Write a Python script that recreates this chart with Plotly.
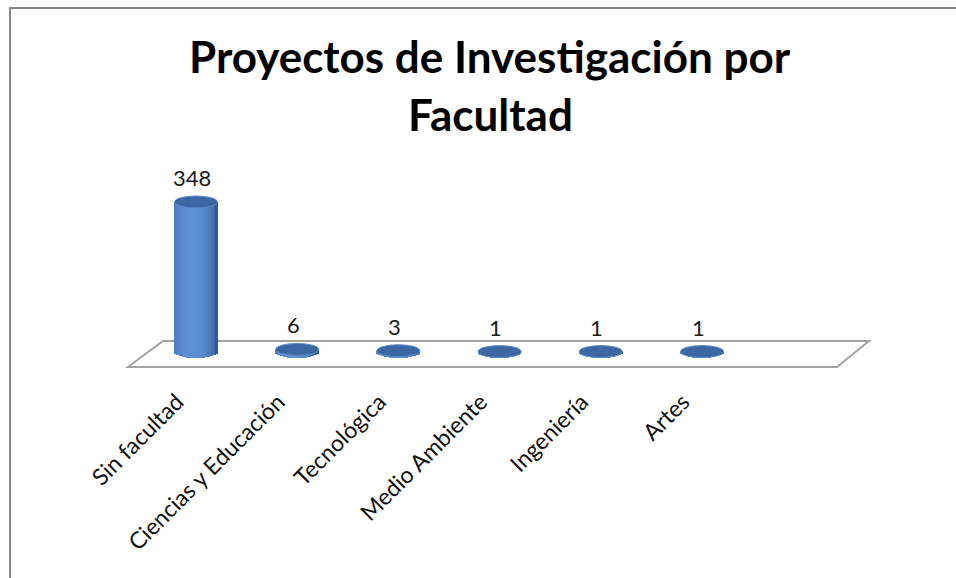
import math
import plotly.graph_objects as go

# ---- data ----
categories = ["Sin facultad", "Ciencias y Educación", "Tecnológica",
              "Medio Ambiente", "Ingeniería", "Artes"]
values = [348, 6, 3, 1, 1, 1]
title_lines = ["Proyectos de Investigación por", "Facultad"]

# ---- geometry / style ----
W, H = 956, 578
M_B = 195                     # bottom margin (room for rotated labels)
PLOT_H = H - M_B
X_PX0, X_STEP = 196.0, 101.2  # pixel of first category, px per category
Y_PX0, Y_SCALE = 352.0, 150.0 / 348.0  # pixel of zero, px per unit

x_lo = -X_PX0 / X_STEP
x_hi = x_lo + W / X_STEP
y_lo = -(PLOT_H - Y_PX0) / Y_SCALE
y_hi = y_lo + PLOT_H / Y_SCALE

CYL_W = 43.0 / X_STEP          # cylinder width (data units)
ELL_H = 12.0 / Y_SCALE         # ellipse height (data units)
N_STRIPS = 28
LABEL_SHIFT = 19.0 / X_STEP    # rotated category labels sit left of the bars

def py_to_paper(py):
    return (PLOT_H - py) / PLOT_H

def shade(u):
    dark = (48, 88, 146)
    light = (96, 145, 214)
    t = max(0.0, 1.0 - ((u + 0.18) / 1.15) ** 2)
    t = t ** 0.7
    c = [int(d + (l - d) * t) for d, l in zip(dark, light)]
    return "rgb(%d,%d,%d)" % tuple(c)

x_pos = list(range(len(categories)))

fig = go.Figure()

# cylinder bodies built from vertical strips (shaded gradient)
for k in range(N_STRIPS):
    u = -1 + (k + 0.5) * 2 / N_STRIPS
    sw = CYL_W / N_STRIPS
    base = -(ELL_H / 2) * math.sqrt(max(0.0, 1 - u * u))
    fig.add_trace(go.Bar(
        x=x_pos, y=[v - base for v in values], base=[base] * len(values),
        width=[sw * 1.15] * len(values),
        offset=[-CYL_W / 2 + k * sw] * len(values),
        marker=dict(color=shade(u), line=dict(width=0)),
        hoverinfo="skip", showlegend=False,
    ))

shapes = []
# frame
shapes.append(dict(type="rect", xref="paper", yref="paper",
                   x0=10 / W, x1=1.05, y0=py_to_paper(H + 20), y1=py_to_paper(8),
                   line=dict(color="#878787", width=2), fillcolor="rgba(0,0,0,0)",
                   layer="below"))
# floor (3-D base plane)
fl, fr = -0.672, 6.334
bl, br = -0.326, 6.650
yf = (Y_PX0 - 367) / Y_SCALE
yb = (Y_PX0 - 341) / Y_SCALE
shapes.append(dict(type="path", xref="x", yref="y",
                   path=f"M {fl},{yf} L {bl},{yb} L {br},{yb} L {fr},{yf} Z",
                   line=dict(color="#a3a3a3", width=2), fillcolor="white",
                   layer="below"))
# top ellipses
for xi, v in zip(x_pos, values):
    shapes.append(dict(type="circle", xref="x", yref="y",
                       x0=xi - CYL_W / 2, x1=xi + CYL_W / 2,
                       y0=v - ELL_H / 2, y1=v + ELL_H / 2,
                       fillcolor="#3d67a2", line=dict(color="#5f8bc8", width=1),
                       layer="above"))

annotations = []
for xi, v in zip(x_pos, values):
    annotations.append(dict(x=xi, y=v + ELL_H / 2, xref="x", yref="y",
                            text=str(v), showarrow=False, yanchor="bottom",
                            xshift=-4, yshift=3,
                            font=dict(family="Lato", size=22, color="#1a1a1a")))
for line, py in zip(title_lines, [56, 114]):
    annotations.append(dict(x=490 / W, y=py_to_paper(py), xref="paper", yref="paper",
                            text=f"<b>{line}</b>", showarrow=False,
                            xanchor="center", yanchor="middle",
                            font=dict(family="Lato", size=44, color="#000000")))

fig.update_layout(
    width=W, height=H,
    margin=dict(l=0, r=0, t=0, b=M_B),
    paper_bgcolor="white", plot_bgcolor="white",
    barmode="overlay", bargap=0,
    showlegend=False,
    shapes=shapes, annotations=annotations,
    xaxis=dict(range=[x_lo, x_hi], tickvals=[p - LABEL_SHIFT for p in x_pos],
               ticktext=categories,
               tickangle=-45, showgrid=False, zeroline=False, showline=False,
               ticks="", tickfont=dict(family="Lato", size=23, color="#111111")),
    yaxis=dict(range=[y_lo, y_hi], visible=False, showgrid=False, zeroline=False),
)

fig.write_html("out.html", config={"displayModeBar": False},
               post_script="document.body.style.margin='0';"
                           "document.body.style.overflow='hidden';")
